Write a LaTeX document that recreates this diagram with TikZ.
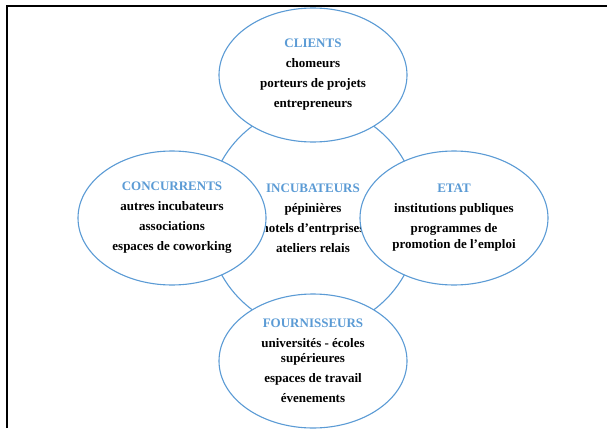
\documentclass[tikz,border=0pt]{standalone}
\usepackage{fontspec}
\setmainfont{Liberation Serif}
\usetikzlibrary{shapes.geometric}
\definecolor{bleu}{HTML}{5B9BD5}
\newcommand{\titre}[1]{{\color{bleu}#1}}

\begin{document}
\begin{tikzpicture}[x=1pt,y=-1pt,
  acteur/.style={ellipse,draw=bleu,line width=1.1pt,fill=white,
    minimum width=188pt,minimum height=134pt,inner sep=0pt,align=center,
    font=\bfseries\fontsize{13}{20}\selectfont}]
\useasboundingbox (0,0) rectangle (607,428);
\draw[line width=1.2pt] (7,428) -- (7,6) -- (607,6);

\node[acteur,minimum width=212pt,minimum height=224pt] (Incubateurs) at (313,218)
  {\titre{INCUBATEURS}\\pépinières\\hotels d'entrprises\\ateliers relais};

\node[acteur] (Clients) at (313,75)
  {\titre{CLIENTS}\\chomeurs\\porteurs de projets\\entrepreneurs};
\node[acteur] (Concurrents) at (172,218)
  {\titre{CONCURRENTS}\\autres incubateurs\\associations\\espaces de coworking};
\node[acteur] (Etat) at (454,218)
  {\titre{ETAT}\\institutions publiques\\programmes de\\[-4pt]promotion de l'emploi};
\node[acteur] (Fournisseurs) at (313,361)
  {\titre{FOURNISSEURS}\\universités - écoles\\[-5pt]supérieures\\espaces de travail\\évenements};
\end{tikzpicture}
\end{document}
